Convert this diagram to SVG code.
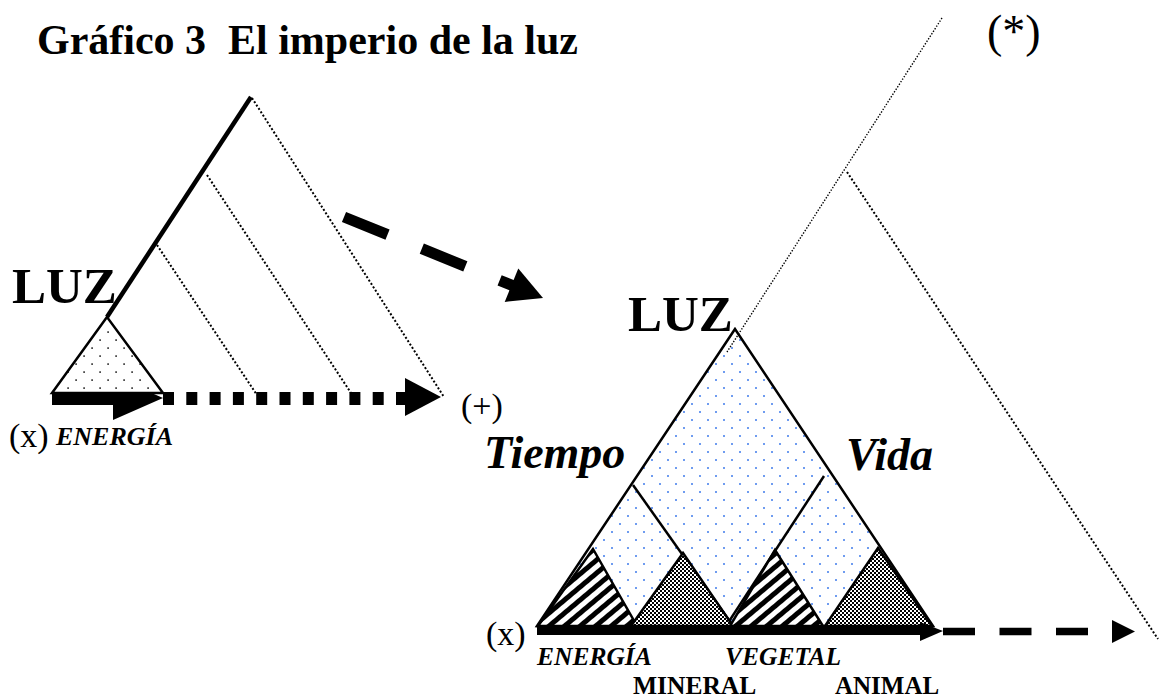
<svg xmlns="http://www.w3.org/2000/svg" width="1162" height="698" viewBox="0 0 1162 698">
<style>
  .t{font-family:"Liberation Serif","Times New Roman",serif;fill:#000}
  .b{font-weight:bold}
  .i{font-style:italic}
  .edge{stroke:#000;stroke-width:2.5;stroke-linejoin:miter}
  .ln{fill:none;stroke:#000;stroke-width:2.5}
  .dot{fill:none;stroke:#000;stroke-width:2;stroke-dasharray:2 2}
  .dotf{fill:none;stroke:#000;stroke-width:1.4;stroke-dasharray:1.4 1.6}
  .blk{fill:#000}
</style>
<defs>
  <pattern id="blackdots" width="16" height="16" patternUnits="userSpaceOnUse">
    <rect width="16" height="16" fill="#fff"/>
    <rect x="3.3" y="3.3" width="1.6" height="1.6" fill="#222"/>
    <rect x="11.3" y="11.3" width="1.6" height="1.6" fill="#222"/>
  </pattern>
  <pattern id="bluedots" width="16" height="16" patternUnits="userSpaceOnUse">
    <rect width="16" height="16" fill="#fff"/>
    <rect x="3" y="3" width="2" height="2" fill="#6f9cf0"/>
    <rect x="11" y="11" width="2" height="2" fill="#6f9cf0"/>
  </pattern>
  <pattern id="stripes" width="10" height="10" patternUnits="userSpaceOnUse" patternTransform="rotate(50)">
    <rect width="10" height="10" fill="#fff"/>
    <rect width="5" height="10" fill="#000"/>
  </pattern>
  <pattern id="checker" width="4" height="4" patternUnits="userSpaceOnUse">
    <rect width="4" height="4" fill="#000"/>
    <rect x="0" y="0" width="2" height="2" fill="#fff"/>
    <rect x="2" y="2" width="2" height="2" fill="#fff"/>
  </pattern>
</defs>
<rect width="1162" height="698" fill="#fff"/>

<g id="title">
  <text class="t b" x="37" y="54" font-size="42">Gráfico 3<tspan x="228">El imperio de la luz</tspan></text>
</g>

<g id="left-figure">
  <line class="dot" x1="252" y1="98" x2="444" y2="397"/>
  <line class="dot" x1="207" y1="175" x2="353" y2="396"/>
  <line class="dot" x1="157" y1="245" x2="257" y2="395"/>
  <line x1="251" y1="97" x2="107" y2="317" stroke="#000" stroke-width="4.5"/>
  <text class="t b" x="12" y="303" font-size="51">LUZ</text>
</g>

<g id="connectors">
  <polygon class="blk" points="52,393 113,393 113,376 163,398 113,420 113,405 52,405"/>
  <line x1="163" y1="398.5" x2="406" y2="398.5" stroke="#000" stroke-width="13" stroke-dasharray="11 12.3"/>
  <polygon class="blk" points="405,378 441,397 405,416"/>
  <line x1="344" y1="217" x2="515.3" y2="286.7" stroke="#000" stroke-width="11" stroke-dasharray="47 37"/>
  <polygon class="blk" points="543,298 504.7,301.9 518.3,268.5"/>
</g>

<g id="left-triangle">
  <polygon class="edge" points="107,317 52,393 163,393" fill="url(#blackdots)"/>
</g>

<g id="left-labels">
  <text class="t" x="9" y="447" font-size="34">(x)</text>
  <text class="t b i" x="56" y="445" font-size="26">ENERGÍA</text>
  <text class="t" x="461" y="417" font-size="34">(+)</text>
</g>

<g id="big-triangle">
  <polygon class="edge" points="735,329 537,626 933,626" fill="url(#bluedots)"/>
  <line class="ln" x1="633" y1="485" x2="733" y2="626"/>
  <line class="ln" x1="824" y1="476" x2="726" y2="626"/>
</g>

<g id="mineral-energia">
  <polygon class="edge" points="593,549 538,626 637,626" fill="url(#stripes)"/>
  <polygon class="edge" points="683,553 631,626 733,626" fill="url(#checker)"/>
</g>
<g id="vegetal-animal">
  <polygon class="edge" points="775,550 730,626 823,626" fill="url(#stripes)"/>
  <polygon class="edge" points="878,548 825,626 932,626" fill="url(#checker)"/>
</g>

<g id="outer-triangle">
  <line class="dotf" x1="942" y1="18" x2="727" y2="352"/>
  <line class="dot" x1="847" y1="172" x2="1158" y2="639"/>
</g>

<g id="bottom-connectors">
  <rect class="blk" x="537" y="627" width="385" height="8"/>
  <polygon class="blk" points="920,622 943,631 920,641"/>
  <line x1="943" y1="631.5" x2="1112" y2="631.5" stroke="#000" stroke-width="7.5" stroke-dasharray="32 24.5"/>
  <polygon class="blk" points="1112,620 1135,631.5 1112,643"/>
</g>

<g id="right-labels">
  <text class="t b" x="628" y="331" font-size="51">LUZ</text>
  <text class="t b i" x="484" y="468" font-size="46">Tiempo</text>
  <text class="t b i" x="846" y="470" font-size="46">Vida</text>
  <text class="t" x="987" y="47" font-size="46">(*)</text>
  <text class="t" x="486" y="645" font-size="34">(x)</text>
  <text class="t b i" x="537" y="665" font-size="25.5">ENERGÍA</text>
  <text class="t b i" x="725" y="665" font-size="25.5">VEGETAL</text>
  <text class="t b" x="633" y="694" font-size="25.5">MINERAL</text>
  <text class="t b" x="835" y="694" font-size="25">ANIMAL</text>
</g>
</svg>
